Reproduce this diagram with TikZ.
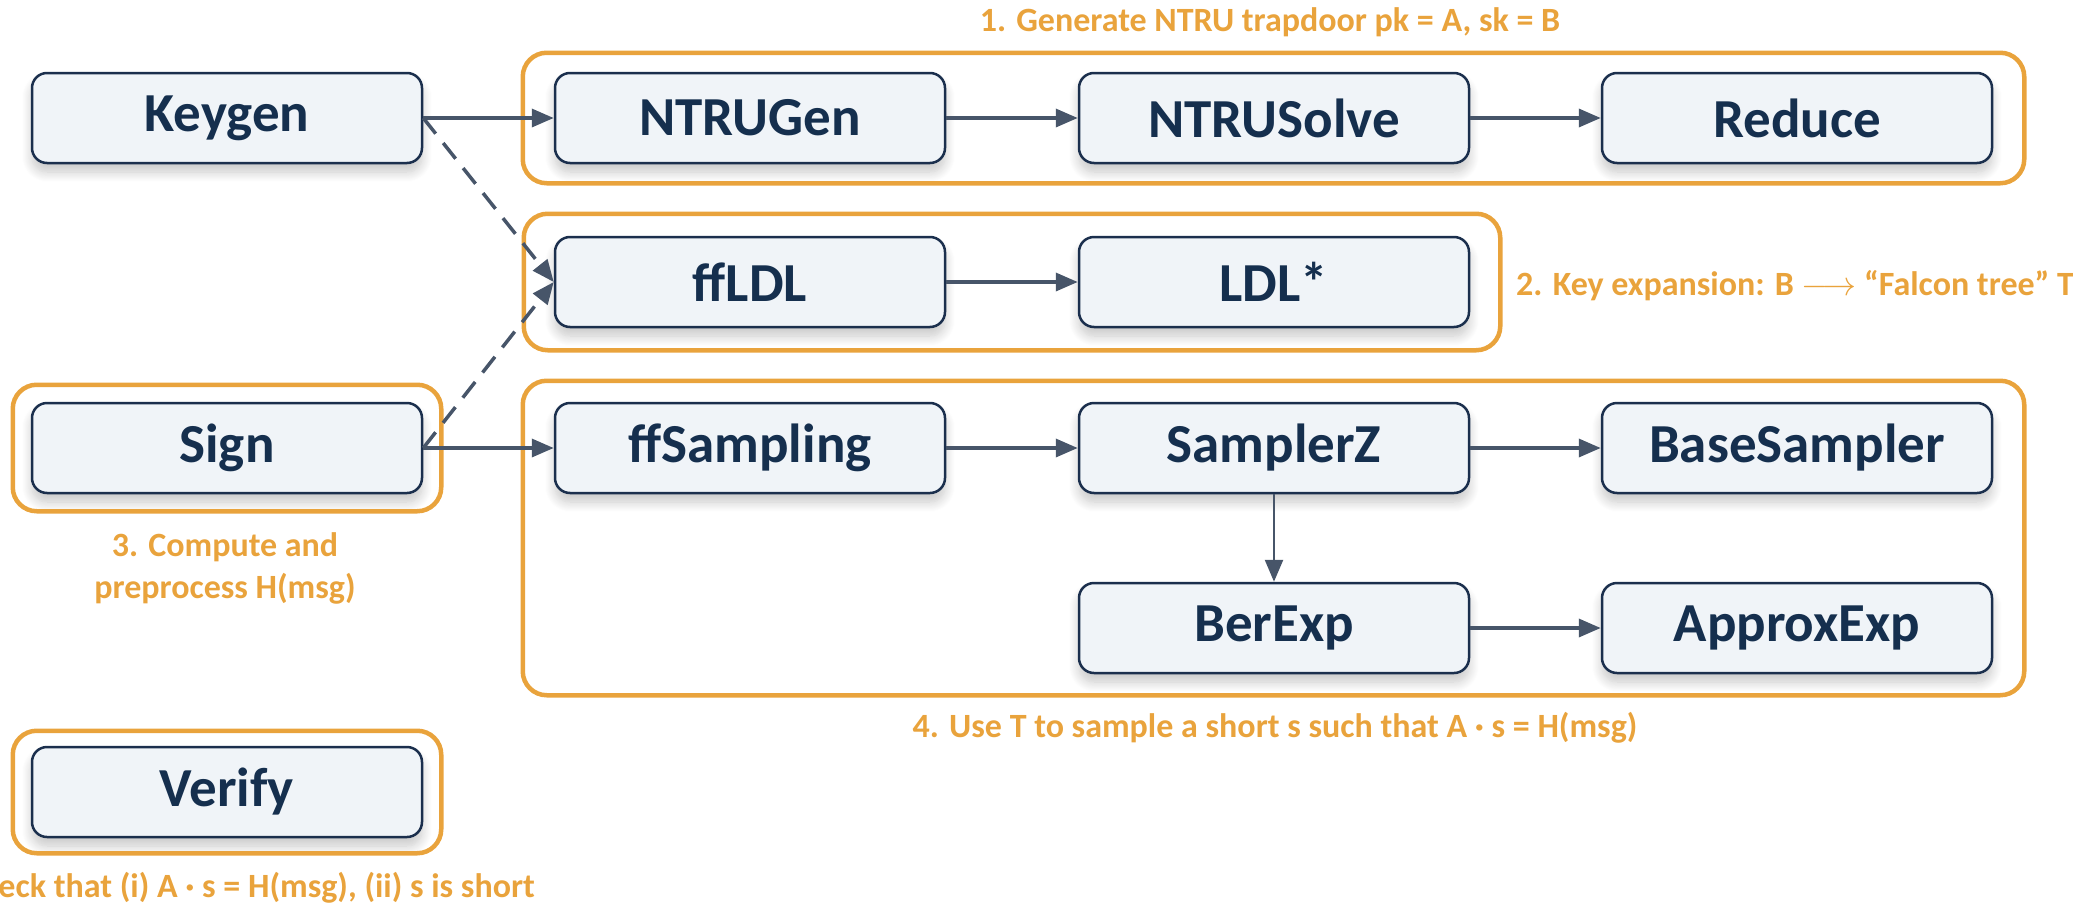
\RequirePackage{fix-cm}
\documentclass[tikz,border=0pt]{standalone}
\usepackage{fontspec}
\setmainfont{Carlito}
\usetikzlibrary{arrows.meta,fit,shadows.blur}

\definecolor{boxfill}{HTML}{F0F4F8}
\definecolor{boxline}{HTML}{1B2F4D}
\definecolor{boxtext}{HTML}{152F4E}
\definecolor{flow}{HTML}{475569}
\definecolor{accent}{HTML}{E9A33C}

\tikzset{
  stage/.style={draw=boxline, line width=2.5pt, fill=boxfill, rounded corners=15pt,
    minimum width=390pt, minimum height=90pt, inner sep=0pt, text=boxtext,
    font=\fontsize{55}{60}\selectfont\bfseries,
    blur shadow={shadow xshift=0pt, shadow yshift=-9pt, shadow opacity=22,
      shadow blur steps=12, shadow blur radius=10pt}},
  group/.style={draw=accent, line width=4.5pt, rounded corners=24pt, inner sep=0pt},
  note/.style={text=accent, font=\fontsize{34}{42}\selectfont\bfseries, inner sep=0pt},
  flowarrow/.style={draw=flow, line width=3.5pt, -{Triangle[length=22pt,width=18pt]}},
  keyarrow/.style={flowarrow, dash pattern=on 20pt off 12pt},
}

\begin{document}
\begin{tikzpicture}[x=1pt,y=-1pt]
\useasboundingbox (0,0) rectangle (2073,905);

% algorithm stages
\node[stage] (keygen)  at (227,118) {Keygen};
\node[stage] (ntrugen) at (750,118) {NTRUGen};
\node[stage] (ntrusolve) at (1274,118) {NTRUSolve};
\node[stage] (reduce)  at (1797,118) {Reduce};

\node[stage] (ffldl) at (750,282) {ffLDL};
\node[stage] (ldl)   at (1274,282) {LDL*};

\node[stage] (sign)        at (227,448) {Sign};
\node[stage] (ffsampling)  at (750,448) {ffSampling};
\node[stage] (samplerz)    at (1274,448) {SamplerZ};
\node[stage] (basesampler) at (1797,448) {BaseSampler};
\node[stage] (berexp)      at (1274,628) {BerExp};
\node[stage] (approxexp)   at (1797,628) {ApproxExp};

\node[stage] (verify) at (227,792) {Verify};

% phase groupings
\node[group, fit=(ntrugen)(reduce), inner xsep=31pt, inner ysep=19pt] (g1) {};
\node[group, fit=(ffldl)(ldl), inner xsep=30pt, inner ysep=22pt] (g2) {};
\node[group, fit=(sign), inner xsep=18pt, inner ysep=17pt] (g3) {};
\node[group, fit=(ffsampling)(basesampler)(approxexp), inner xsep=31pt, inner ysep=21pt] (g4) {};
\node[group, fit=(verify), inner xsep=18pt, inner ysep=15pt] (g5) {};

% phase descriptions
\node[note] (t1) at (1270,22) {1. Generate NTRU trapdoor pk = A, sk = B};
\node[note, anchor=west] (t2) at (1516,286) {2. Key expansion: B $\longrightarrow$ “Falcon tree” T};
\node[note, align=center] (t3) at (225,568) {3. Compute and\\preprocess H(msg)};
\node[note] (t4) at (1275,728) {4. Use T to sample a short s such that A · s = H(msg)};
\node[note, anchor=east] (t5) at (535,888) {5. Check that (i) A · s = H(msg), (ii) s is short};

% call flow
\draw[flowarrow] (keygen) -- (ntrugen);
\draw[flowarrow] (ntrugen) -- (ntrusolve);
\draw[flowarrow] (ntrusolve) -- (reduce);
\draw[flowarrow] (ffldl) -- (ldl);
\draw[flowarrow] (sign) -- (ffsampling);
\draw[flowarrow] (ffsampling) -- (samplerz);
\draw[flowarrow] (samplerz) -- (basesampler);
\draw[flowarrow, line width=2.5pt] (samplerz) -- (berexp);
\draw[flowarrow] (berexp) -- (approxexp);
\draw[keyarrow] (keygen.east) -- (ffldl.west);
\draw[keyarrow] (sign.east) -- (ffldl.west);
\end{tikzpicture}
\end{document}
